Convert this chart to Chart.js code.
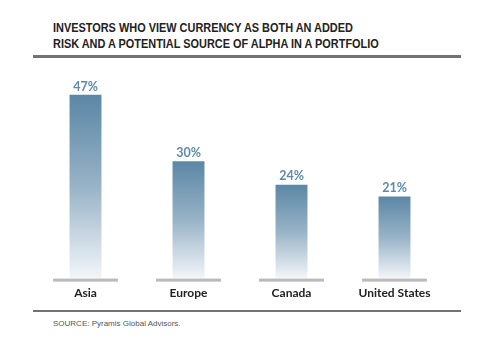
<!DOCTYPE html>
<html>
<head>
<meta charset="utf-8">
<script src="https://cdn.jsdelivr.net/npm/chart.js@4"></script>
<style>
  body { margin: 0; width: 480px; height: 360px; background: #fff; position: relative; overflow: hidden; }
  #title { position: absolute; left: 53px; top: 20px; font: bold 12px "Liberation Sans", Arial, sans-serif; color: #222; line-height: 16px; white-space: nowrap; transform: scaleX(0.91); transform-origin: 0 0; }
  .rule { position: absolute; left: 33px; width: 428px; background: #737373; }
  #source { position: absolute; left: 53px; top: 319px; font: 8px "Liberation Sans", Arial, sans-serif; color: #555; }
  #wrap { position: absolute; left: 34px; top: 60px; width: 412px; height: 250px; }
</style>
</head>
<body>
<div id="title">INVESTORS WHO VIEW CURRENCY AS BOTH AN ADDED<br>RISK AND A POTENTIAL SOURCE OF ALPHA IN A PORTFOLIO</div>
<div class="rule" style="top:55px;height:3px;"></div>
<div id="wrap"><canvas id="chart"></canvas></div>
<div class="rule" style="top:310px;height:2px;"></div>
<div id="source">SOURCE: Pyramis Global Advisors.</div>
<script>
const regions = ['Asia', 'Europe', 'Canada', 'United States'];
const shares = [47, 30, 24, 21];

// gray base segment under each category + value labels on top
const basePlugin = {
    id: 'bases',
    afterDatasetsDraw(chart) {
        const ctx = chart.ctx;
        const x = chart.scales.x;
        const y = chart.scales.y;
        const y0 = y.getPixelForValue(0);
        const half = x.width / regions.length * 0.63 / 2;
        ctx.save();
        ctx.fillStyle = '#bababa';
        regions.forEach((r, i) => {
            const cx = x.getPixelForValue(i);
            ctx.fillRect(cx - half, y0, half * 2, 3);
        });
        ctx.fillStyle = '#5f8aa8';
        ctx.font = 'bold 12.5px Lato, "Liberation Sans", Arial, sans-serif';
        ctx.textAlign = 'center';
        ctx.textBaseline = 'bottom';
        shares.forEach((v, i) => {
            ctx.fillText(v + '%', x.getPixelForValue(i), y.getPixelForValue(v) - 2);
        });
        ctx.restore();
    }
};

function barFill(context) {
    const chart = context.chart;
    if (!chart.chartArea) return '#5b87a5';
    const y = chart.scales.y;
    const v = context.raw;
    const g = chart.ctx.createLinearGradient(0, y.getPixelForValue(v), 0, y.getPixelForValue(0));
    g.addColorStop(0, '#5b87a5');
    g.addColorStop(0.5, '#98b3c7');
    g.addColorStop(1, '#f3f6f9');
    return g;
}

new Chart(document.getElementById('chart'), {
    type: 'bar',
    data: {
        labels: regions,
        datasets: [{
            data: shares,
            backgroundColor: barFill,
            borderWidth: 0,
            categoryPercentage: 1,
            barPercentage: 0.31
        }]
    },
    options: {
        responsive: true,
        maintainAspectRatio: false,
        animation: false,
        layout: { padding: { top: 23, bottom: 3, left: 0, right: 0 } },
        plugins: { legend: { display: false }, tooltip: { enabled: false } },
        scales: {
            x: {
                grid: { display: false, drawTicks: false },
                border: { display: false },
                ticks: {
                    padding: 7,
                    color: '#222',
                    font: { family: 'Lato, "Liberation Sans", Arial, sans-serif', size: 12, weight: 'bold' }
                }
            },
            y: { display: false, min: 0, max: 50 }
        }
    },
    plugins: [basePlugin]
});
</script>
</body>
</html>
